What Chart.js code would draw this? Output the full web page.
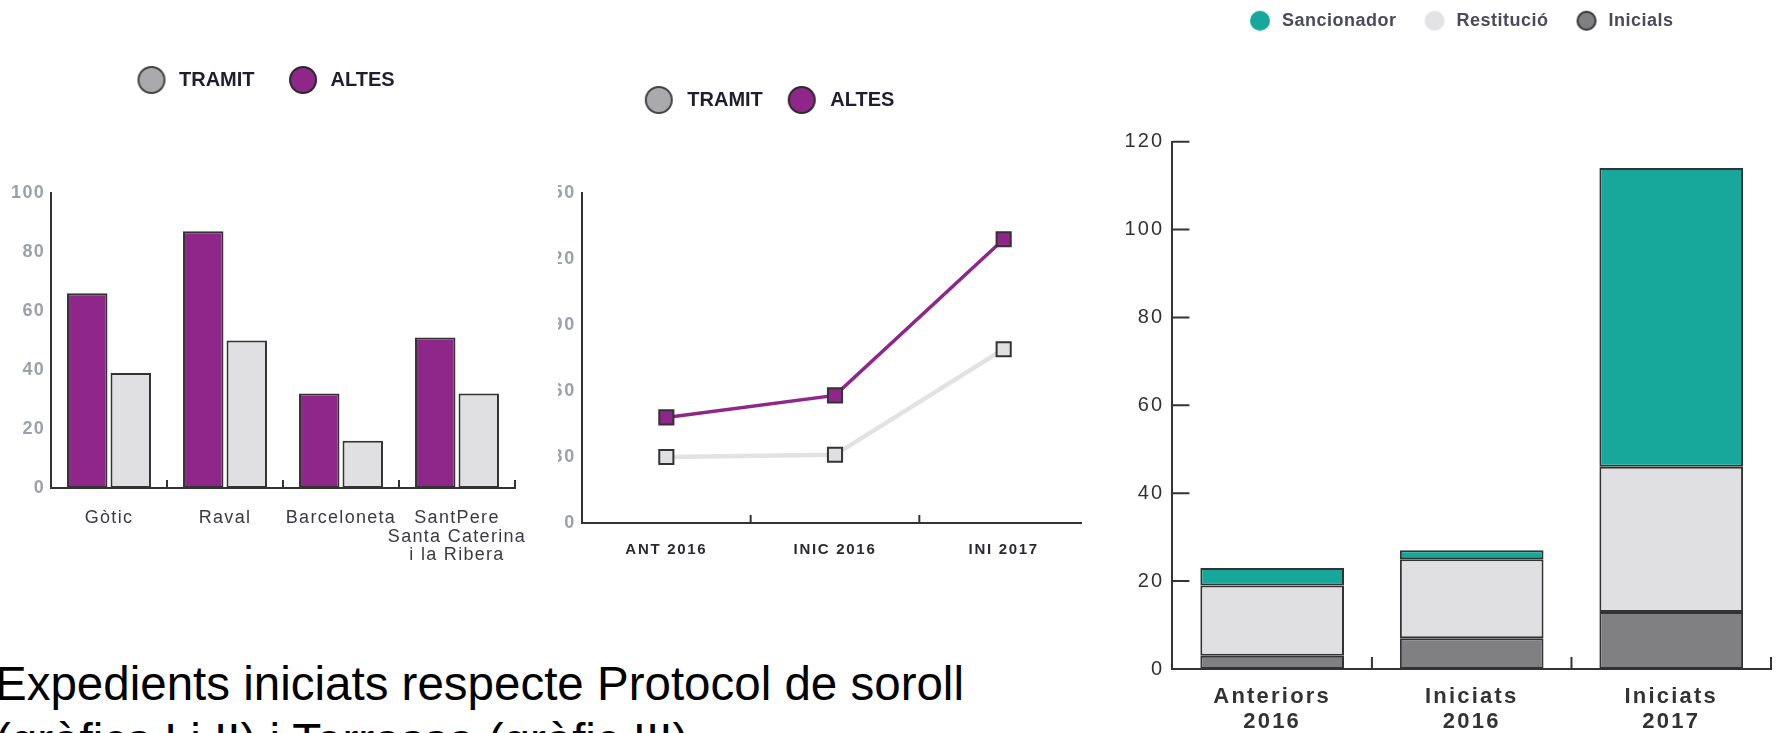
<!DOCTYPE html>
<html lang="ca">
<head>
<meta charset="utf-8">
<title>Expedients iniciats respecte Protocol de soroll</title>
<script src="https://cdn.jsdelivr.net/npm/chart.js@4.4.1/dist/chart.umd.min.js"></script>
<style>
  html, body { margin: 0; padding: 0; background: #fff; }
  body { width: 1777px; height: 733px; position: relative; overflow: hidden; font-family: 'Liberation Sans', Arial, sans-serif; }
  .panel { position: absolute; top: 0; background: #fff; }
  #p1 { left: 0; width: 558px; height: 600px; z-index: 3; }
  #p2 { left: 540px; width: 560px; height: 600px; z-index: 1; }
  #p3 { left: 1082px; width: 695px; height: 733px; z-index: 2; }
  .caption { position: absolute; left: -5px; top: 655px; font-size: 47.5px; line-height: 57px; color: #000; z-index: 4; white-space: nowrap; }
</style>
</head>
<body>
<div class="panel" id="p1"><canvas id="barris"></canvas></div>
<div class="panel" id="p2"><canvas id="periodes"></canvas></div>
<div class="panel" id="p3"><canvas id="terrassa"></canvas></div>
<div class="caption">Expedients iniciats respecte Protocol de soroll<br>(gràfics I i II) i Terrassa (gràfic III)</div>

<script>
// gràfic I: barris
const districtes = ['Gòtic', 'Raval', 'Barceloneta', ['SantPere', 'Santa Caterina', 'i la Ribera']];
const altesBarri = [66, 87, 32, 51];
const tramitBarri = [39, 50, 16, 32];
const ticksBarri = [0, 20, 40, 60, 80, 100];

// gràfic II: períodes
const periodes = ['ANT 2016', 'INIC 2016', 'INI 2017'];
const tramitPeriode = [30, 31, 79];
const altesPeriode = [48, 58, 129];
const ticksPeriode = [0, 30, 60, 90, 120, 150];

// gràfic III: Terrassa
const expedients = [['Anteriors', '2016'], ['Iniciats', '2016'], ['Iniciats', '2017']];
const inicials = [3, 7, 13];
const restitucio = [16, 18, 33];
const sancionador = [4, 2, 68];
const ticksTerrassa = [0, 20, 40, 60, 80, 100, 120];

const LINE = '#333333';
const PURPLE = '#8f278b';
const LIGHT = '#e0e0e3';
const MID = '#a9a9ae';
const DARK = '#808083';
const TEAL = '#18a89b';
const GREYTXT = '#9ba0a9';

Chart.defaults.font.family = "'Liberation Sans', Arial, sans-serif";
Chart.defaults.animation = false;
Chart.defaults.maintainAspectRatio = false;
Chart.defaults.plugins.tooltip.enabled = false;

// marques de divisió cap a dins dels eixos
const innerTicks = {
    id: 'innerTicks',
    afterDraw(chart, args, opts) {
        const {ctx, chartArea: a, scales: {x, y}} = chart;
        ctx.save();
        ctx.strokeStyle = LINE;
        ctx.lineWidth = 2;
        ctx.beginPath();
        if (opts.x) {
            for (let i = 1; i <= x.ticks.length; i++) {
                const px = x.getPixelForValue(i - 0.5);
                ctx.moveTo(px, a.bottom);
                ctx.lineTo(px, a.bottom - opts.x);
            }
        }
        if (opts.y) {
            y.ticks.forEach(t => {
                const py = y.getPixelForValue(t.value);
                ctx.moveTo(a.left, py);
                ctx.lineTo(a.left + opts.y, py);
            });
        }
        ctx.stroke();
        ctx.restore();
    }
};

function spacing(px) {
    const set = chart => { chart.ctx.letterSpacing = px + 'px'; };
    return { id: 'spacing', beforeUpdate: set, beforeDraw: set };
}

// col·loca la llegenda: centre del primer cercle a (x, y)
function legendAt(cfg) {
    return {
        id: 'legendAt',
        beforeInit(chart) {
            const lg = chart.legend;
            const fit = lg.fit, draw = lg.draw;
            lg.fit = function () {
                const ls = this.ctx.letterSpacing;
                this.ctx.letterSpacing = cfg.spacing + 'px';
                fit.call(this);
                this.ctx.letterSpacing = ls;
                this.height = cfg.height;
            };
            lg.draw = function () {
                const ls = this.ctx.letterSpacing;
                this.ctx.letterSpacing = cfg.spacing + 'px';
                draw.call(this);
                this.ctx.letterSpacing = ls;
            };
        },
        afterLayout(chart) {
            const lg = chart.legend;
            const w = lg.right - lg.left, h = lg.bottom - lg.top;
            lg.left = cfg.x - cfg.pad - cfg.box / 2;
            lg.right = lg.left + w;
            lg.top = cfg.y - cfg.pad - cfg.size / 2;
            lg.bottom = lg.top + h;
        }
    };
}

// cercle de la llegenda com a imatge
function dot(fill, border, d) {
    const c = document.createElement('canvas');
    c.width = c.height = d + 2;
    const g = c.getContext('2d');
    g.beginPath();
    g.arc(c.width / 2, c.height / 2, d / 2 - (border ? 1 : 0), 0, Math.PI * 2);
    g.fillStyle = fill;
    g.fill();
    if (border) {
        g.lineWidth = 2;
        g.strokeStyle = border;
        g.stroke();
    }
    return c;
}

function legendItems(fills, borders, d) {
    const dots = fills.map((f, i) => dot(f, borders[i], d));
    return chart => Chart.defaults.plugins.legend.labels.generateLabels(chart).map(item => ({
        ...item,
        pointStyle: dots[item.datasetIndex]
    }));
}

function yRange(ticks) {
    return { min: ticks[0], max: ticks[ticks.length - 1], step: ticks[1] - ticks[0] };
}

document.addEventListener('DOMContentLoaded', function () {
    // I
    const r1 = yRange(ticksBarri);
    new Chart(document.getElementById('barris'), {
        type: 'bar',
        data: {
            labels: districtes,
            datasets: [
                { label: 'ALTES', data: altesBarri, backgroundColor: PURPLE },
                { label: 'TRAMIT', data: tramitBarri, backgroundColor: LIGHT }
            ]
        },
        options: {
            datasets: { bar: { borderColor: LINE, borderWidth: 2, borderSkipped: false, categoryPercentage: 0.75, barPercentage: 0.93 } },
            layout: { padding: { left: 0, right: 43, top: 0, bottom: 0 } },
            plugins: {
                legend: {
                    align: 'start',
                    labels: {
                        usePointStyle: true, pointStyleWidth: 35, padding: 31, color: '#1e1e30',
                        font: { size: 20, weight: 'bold' },
                        sort: (a, b) => b.datasetIndex - a.datasetIndex,
                        generateLabels: legendItems([PURPLE, MID], ['#2a2a2a', '#444'], 28)
                    }
                },
                innerTicks: { x: 8 }
            },
            scales: {
                x: {
                    grid: { display: false, drawTicks: false },
                    border: { color: LINE, width: 2 },
                    ticks: { color: '#3a3a44', padding: 21, maxRotation: 0, autoSkip: false, font: { size: 18, lineHeight: 1.03 } },
                    afterFit: s => { s.height = 600 - 488; }
                },
                y: {
                    min: r1.min, max: r1.max,
                    grid: { display: false, drawTicks: false },
                    border: { color: LINE, width: 2 },
                    ticks: { stepSize: r1.step, color: GREYTXT, padding: 6, font: { size: 18, weight: 'bold' } },
                    afterFit: s => { s.width = 51; }
                }
            }
        },
        plugins: [innerTicks, spacing(1.3), legendAt({ x: 151.5, y: 80, height: 193, pad: 31, box: 35, size: 20, spacing: 0 })]
    });

    // II
    const r2 = yRange(ticksPeriode);
    new Chart(document.getElementById('periodes'), {
        type: 'line',
        data: {
            labels: periodes,
            datasets: [
                { label: 'TRAMIT', data: tramitPeriode, borderColor: '#e2e2e4', borderWidth: 4.5, pointBackgroundColor: LIGHT },
                { label: 'ALTES', data: altesPeriode, borderColor: PURPLE, borderWidth: 3.5, pointBackgroundColor: PURPLE }
            ]
        },
        options: {
            datasets: { line: { tension: 0, pointStyle: 'rect', pointRadius: 10, pointBorderWidth: 2, pointBorderColor: LINE } },
            layout: { padding: { left: 0, right: 8, top: 0, bottom: 0 } },
            plugins: {
                legend: {
                    align: 'start',
                    labels: {
                        usePointStyle: true, pointStyleWidth: 37, padding: 20.4, color: '#1e1e30',
                        font: { size: 20, weight: 'bold' },
                        generateLabels: legendItems([MID, PURPLE], ['#444', '#2a2a2a'], 28)
                    }
                },
                innerTicks: { x: 8 }
            },
            scales: {
                x: {
                    offset: true,
                    grid: { display: false, drawTicks: false },
                    border: { color: LINE, width: 2 },
                    ticks: { color: '#2a2a35', padding: 17.6, maxRotation: 0, font: { size: 15, weight: 'bold' } },
                    afterFit: s => { s.height = 600 - 523; }
                },
                y: {
                    min: r2.min, max: r2.max,
                    grid: { display: false, drawTicks: false },
                    border: { color: LINE, width: 2 },
                    ticks: { stepSize: r2.step, color: GREYTXT, padding: 6, font: { size: 18, weight: 'bold' } },
                    afterFit: s => { s.width = 42; }
                }
            }
        },
        plugins: [innerTicks, spacing(1.7), legendAt({ x: 118.8, y: 100, height: 193, pad: 20.4, box: 37, size: 20, spacing: 0 })]
    });

    // III
    const r3 = yRange(ticksTerrassa);
    new Chart(document.getElementById('terrassa'), {
        type: 'bar',
        data: {
            labels: expedients,
            datasets: [
                { label: 'Inicials', data: inicials, backgroundColor: DARK },
                { label: 'Restitució', data: restitucio, backgroundColor: LIGHT },
                { label: 'Sancionador', data: sancionador, backgroundColor: TEAL }
            ]
        },
        options: {
            datasets: { bar: { borderColor: LINE, borderWidth: 2, borderSkipped: false, categoryPercentage: 1, barPercentage: 0.72 } },
            layout: { padding: { left: 0, right: 6, top: 0, bottom: 0 } },
            plugins: {
                legend: {
                    align: 'start',
                    labels: {
                        usePointStyle: true, pointStyleWidth: 26, padding: 25, color: '#4a4a5a',
                        font: { size: 18, weight: 'bold' },
                        sort: (a, b) => b.datasetIndex - a.datasetIndex,
                        generateLabels: legendItems([DARK, '#e3e3e6', TEAL], ['#333', null, null], 20)
                    }
                },
                innerTicks: { x: 12, y: 17 }
            },
            scales: {
                x: {
                    stacked: true,
                    grid: { display: false, drawTicks: false },
                    border: { color: LINE, width: 2 },
                    ticks: { color: '#333', padding: 15.2, maxRotation: 0, font: { size: 22, weight: 'bold', lineHeight: 1.136 } },
                    afterFit: s => { s.height = 733 - 669; }
                },
                y: {
                    stacked: true,
                    min: r3.min, max: r3.max,
                    grid: { display: false, drawTicks: false },
                    border: { color: LINE, width: 2 },
                    ticks: { stepSize: r3.step, color: '#333', padding: 8, font: { size: 20 } },
                    afterFit: s => { s.width = 90.4; }
                }
            }
        },
        plugins: [innerTicks, spacing(2.2), legendAt({ x: 178, y: 20.7, height: 141.7, pad: 25, box: 26, size: 18, spacing: 0.5 })]
    });
});
</script>
</body>
</html>
